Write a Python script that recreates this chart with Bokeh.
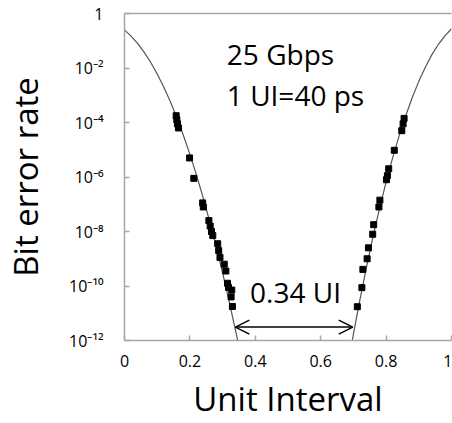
from bokeh.plotting import figure
from bokeh.models import FixedTicker, Label, Arrow, OpenHead, Range1d, LinearAxis
from bokeh.embed import file_html
from bokeh.resources import INLINE

# ---- data -----------------------------------------------------------------
# fitted bathtub curves: unit interval and log10(bit error rate)
left_ui = [0.00, 0.02, 0.04, 0.06, 0.08, 0.10, 0.12, 0.14, 0.16, 0.18,
           0.20, 0.22, 0.24, 0.26, 0.28, 0.30, 0.32, 0.34, 0.35]
left_log = [-0.60, -0.83, -1.10, -1.42, -1.79, -2.22, -2.70, -3.23, -3.82, -4.47,
            -5.17, -5.92, -6.74, -7.61, -8.54, -9.52, -10.56, -11.66, -12.23]
right_ui = [1.00, 0.98, 0.96, 0.94, 0.92, 0.90, 0.88, 0.86, 0.84, 0.82,
            0.80, 0.78, 0.76, 0.74, 0.72, 0.70, 0.69]
right_log = [-0.56, -0.82, -1.13, -1.51, -1.97, -2.49, -3.08, -3.75, -4.48, -5.30,
             -6.19, -7.15, -8.19, -9.31, -10.50, -11.77, -12.45]

# measured points
meas_left_ui = [0.158, 0.160, 0.162, 0.165, 0.199, 0.212, 0.239, 0.241, 0.258, 0.262,
                0.266, 0.270, 0.285, 0.288, 0.292, 0.305, 0.310, 0.315, 0.318, 0.328,
                0.326, 0.330]
meas_left_log = [-3.75, -3.90, -4.05, -4.20, -5.30, -6.05, -6.95, -7.10, -7.60, -7.80,
                 -8.00, -8.15, -8.45, -8.70, -8.95, -9.20, -9.45, -9.90, -10.05, -10.15,
                 -10.40, -10.75]
meas_right_ui = [0.855, 0.852, 0.848, 0.825, 0.808, 0.804, 0.801, 0.781, 0.778, 0.762,
                 0.759, 0.746, 0.742, 0.729, 0.726, 0.712]
meas_right_log = [-3.85, -4.05, -4.30, -5.02, -5.70, -5.95, -6.10, -6.85, -7.10, -7.75,
                  -8.10, -8.60, -9.00, -9.39, -10.06, -10.76]

x_ticks = [0, 0.2, 0.4, 0.6, 0.8, 1.0]
x_tick_labels = ["0", "0.2", "0.4", "0.6", "0.8", "1"]
y_tick_exps = [0, -2, -4, -6, -8, -10, -12]
y_tick_labels = ["1", "10⁻²", "10⁻⁴", "10⁻⁶", "10⁻⁸", "10⁻¹⁰", "10⁻¹²"]

rate_text = "25 Gbps"
ui_text = "1 UI=40 ps"
eye_text = "0.34 UI"
x_title = "Unit Interval"
y_title = "Bit error rate"

# annotation anchors (data units)
text_ui = 0.313
rate_ber = 3.2e-2
ui_ber = 1.05e-3
eye_text_ui = 0.384
eye_text_ber = 5.8e-11
eye_left = 0.339
eye_right = 0.698
eye_ber = 3.1e-12

FONT = "Open Sans"
GRAY = "#a6a6a6"

W, H = 452, 423
p = figure(width=W, height=H, y_axis_type="log",
           x_range=Range1d(0, 1), y_range=Range1d(1e-12, 1),
           output_backend="svg", toolbar_location=None,
           min_border_left=122, min_border_right=1,
           min_border_top=13, min_border_bottom=83)
p.background_fill_color = "white"
p.border_fill_color = "white"
p.outline_line_color = None
p.grid.visible = False

xa = p.below[0]
ya = p.left[0]

# top border drawn as a bare axis (no right border visible in the original)
top = LinearAxis(ticker=FixedTicker(ticks=[]), axis_line_color=GRAY,
                 axis_line_width=1.5, major_tick_line_color=None,
                 minor_tick_line_color=None, major_label_standoff=0)
p.add_layout(top, "above")

xa.ticker = FixedTicker(ticks=x_ticks)
xa.major_label_overrides = {t: l for t, l in zip(x_ticks, x_tick_labels)}
xa.major_tick_in = 5
xa.major_tick_out = 0
xa.minor_tick_line_color = None
xa.axis_line_color = GRAY
xa.axis_line_width = 1.5
xa.major_tick_line_color = GRAY
xa.major_tick_line_width = 1.5
xa.major_label_text_font = FONT
xa.major_label_text_font_size = "16px"
xa.major_label_text_color = "black"
xa.major_label_standoff = 14
xa.axis_label = x_title
xa.axis_label_text_font = FONT
xa.axis_label_text_font_size = "33px"
xa.axis_label_text_font_style = "normal"
xa.axis_label_text_color = "black"
xa.axis_label_standoff = 6

y_tick_values = [10.0 ** e for e in y_tick_exps]
ya.ticker = FixedTicker(ticks=y_tick_values)
ya.major_label_overrides = {t: l for t, l in zip(y_tick_values, y_tick_labels)}
ya.major_tick_in = 5
ya.major_tick_out = 0
ya.minor_tick_line_color = None
ya.axis_line_color = GRAY
ya.axis_line_width = 1.5
ya.major_tick_line_color = GRAY
ya.major_tick_line_width = 1.5
ya.major_label_text_font = FONT
ya.major_label_text_font_size = "16px"
ya.major_label_text_color = "black"
ya.major_label_standoff = 21
ya.axis_label = y_title
ya.axis_label_text_font = FONT
ya.axis_label_text_font_size = "33px"
ya.axis_label_text_font_style = "normal"
ya.axis_label_text_color = "black"
ya.axis_label_standoff = 18

# curves
p.line(left_ui, [10.0 ** v for v in left_log], line_color="#555555", line_width=1.2)
p.line(right_ui, [10.0 ** v for v in right_log], line_color="#555555", line_width=1.2)

# measured points
p.scatter(meas_left_ui, [10.0 ** v for v in meas_left_log], marker="square",
          size=6, color="black")
p.scatter(meas_right_ui, [10.0 ** v for v in meas_right_log], marker="square",
          size=6, color="black")

# annotations
for txt, yy in ((rate_text, rate_ber), (ui_text, ui_ber)):
    p.add_layout(Label(x=text_ui, y=yy, text=txt, text_align="left",
                       text_baseline="alphabetic", text_font=FONT,
                       text_font_size="28px", text_color="black"))
p.add_layout(Label(x=eye_text_ui, y=eye_text_ber, text=eye_text, text_align="left",
                   text_baseline="alphabetic", text_font=FONT,
                   text_font_size="28px", text_color="black"))
p.add_layout(Arrow(start=OpenHead(size=14, line_width=1.5, line_color="black"),
                   end=OpenHead(size=14, line_width=1.5, line_color="black"),
                   x_start=eye_left, x_end=eye_right, y_start=eye_ber, y_end=eye_ber,
                   line_width=1.5, line_color="black"))

open("out.html", "w").write(file_html(p, INLINE))
